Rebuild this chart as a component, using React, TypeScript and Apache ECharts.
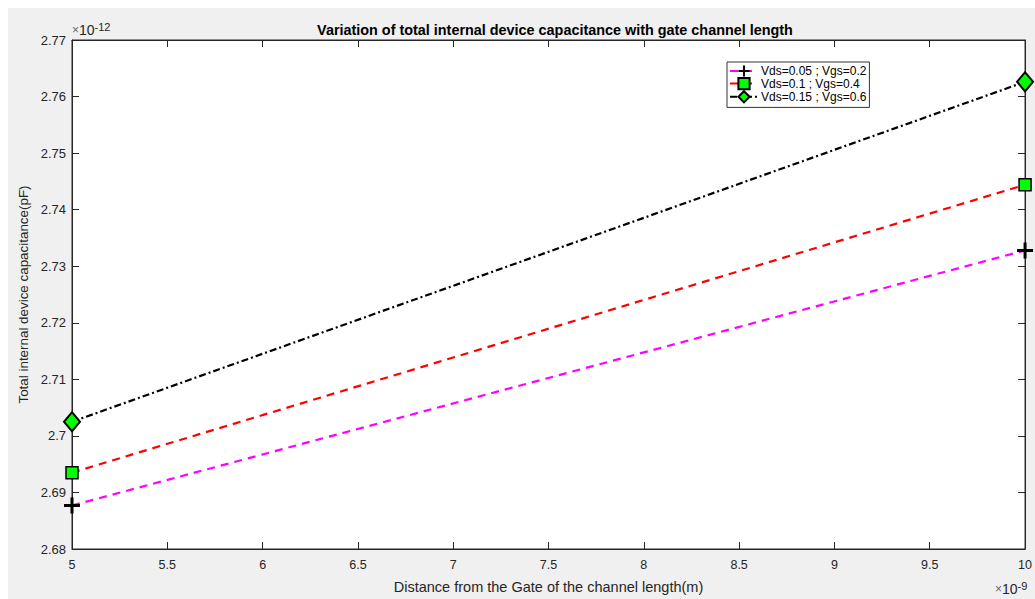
import React, { useEffect, useRef } from "react";
import * as echarts from "echarts";

const xValues = [5, 10];
const seriesNames = ["Vds=0.05 ; Vgs=0.2", "Vds=0.1 ; Vgs=0.4", "Vds=0.15 ; Vgs=0.6"];
const magentaValues = [2.6877, 2.7328];
const redValues = [2.6935, 2.7444];
const blackValues = [2.7025, 2.7626];

const titleText = "Variation of total internal device capacitance with gate channel length";
const xLabel = "Distance from the Gate of the channel length(m)";
const yLabel = "Total internal device capacitance(pF)";

const PLUS = "path://M6.5,0H9.5V6.5H16V9.5H9.5V16H6.5V9.5H0V6.5H6.5Z";

const fmt = (v: number) => String(parseFloat(v.toFixed(2)));

export default function App() {
  const ref = useRef<HTMLDivElement>(null);
  useEffect(() => {
    if (!ref.current) return;
    const chart = echarts.init(ref.current, undefined, { renderer: "svg" });
    const font = "'Liberation Sans', Arial, Helvetica, sans-serif";
    const axisCol = "#262626";
    const pts = (vals: number[]) => xValues.map((x, i) => [x, vals[i]]);
    const commonX = {
      type: "value",
      min: 5,
      max: 10,
      interval: 0.5,
      splitLine: { show: false },
      axisLine: { show: true, onZero: false, lineStyle: { color: axisCol, width: 1 } },
      axisTick: { show: true, inside: true, length: 7, lineStyle: { color: axisCol } },
    };
    const commonY = {
      type: "value",
      min: 2.68,
      max: 2.77,
      interval: 0.01,
      splitLine: { show: false },
      axisLine: { show: true, onZero: false, lineStyle: { color: axisCol, width: 1 } },
      axisTick: { show: true, inside: true, length: 7, lineStyle: { color: axisCol } },
    };
    const expRich = {
      a: { fontSize: 12, fill: "#666", fontFamily: font },
      b: { fontSize: 14, fill: axisCol, fontFamily: font },
      c: { fontSize: 11, fill: axisCol, fontFamily: font, verticalAlign: "top", padding: [0, 0, 7, 0] },
    };
    chart.setOption({
      animation: false,
      backgroundColor: "#f0f0f0",
      textStyle: { fontFamily: font },
      title: {
        text: titleText,
        left: 64 + 478,
        textAlign: "center",
        top: 10,
        textStyle: { fontSize: 14.4, fontWeight: "bold", color: "#000", fontFamily: font },
      },
      grid: {
        left: 64,
        right: 7,
        top: 32,
        bottom: 49,
        show: true,
        backgroundColor: "#ffffff",
        borderColor: axisCol,
        borderWidth: 1,
      },
      legend: {
        left: 719,
        top: 54,
        orient: "vertical",
        data: seriesNames,
        backgroundColor: "#ffffff",
        borderColor: "#333333",
        borderWidth: 1,
        borderRadius: 0,
        padding: [3, 3, 4, 2],
        itemGap: 0,
        itemWidth: 28,
        itemHeight: 14,
        textStyle: { fontSize: 12, color: "#000", fontFamily: font, padding: [0, 0, 0, -2] },
      },
      xAxis: [
        {
          ...commonX,
          position: "bottom",
          name: xLabel,
          nameLocation: "middle",
          nameGap: 30,
          nameTextStyle: { fontSize: 14.5, color: axisCol, fontFamily: font },
          axisLabel: { show: true, color: axisCol, fontSize: 12.5, margin: 9, formatter: fmt },
        },
        { ...commonX, position: "top", axisLabel: { show: false } },
      ],
      yAxis: [
        {
          ...commonY,
          position: "left",
          name: yLabel,
          nameLocation: "middle",
          nameGap: 31,
          nameTextStyle: { fontSize: 13.4, color: axisCol, fontFamily: font },
          axisLabel: { show: true, color: axisCol, fontSize: 13, margin: 6, formatter: fmt },
        },
        { ...commonY, position: "right", axisLabel: { show: false } },
      ],
      graphic: [
        {
          type: "text",
          left: 64,
          top: 13,
          style: { text: "{a|×}{b|10}{c|-12}", rich: expRich },
        },
        {
          type: "text",
          left: 987,
          top: 572,
          style: { text: "{a|×}{b|10}{c|-9}", rich: expRich },
        },
      ],
      series: [
        {
          name: seriesNames[0],
          type: "line",
          clip: false,
          data: pts(magentaValues),
          symbol: PLUS,
          symbolSize: 16,
          itemStyle: { color: "#000000", borderWidth: 0 },
          lineStyle: { color: "#ff00ff", width: 2.2, type: [8, 6] },
          z: 3,
        },
        {
          name: seriesNames[1],
          type: "line",
          clip: false,
          data: pts(redValues),
          symbol: "rect",
          symbolSize: 12,
          itemStyle: { color: "#00ff00", borderColor: "#000000", borderWidth: 1.5 },
          lineStyle: { color: "#ff0000", width: 2.2, type: [8, 6] },
          z: 4,
        },
        {
          name: seriesNames[2],
          type: "line",
          clip: false,
          data: pts(blackValues),
          symbol: "diamond",
          symbolSize: [16, 19],
          itemStyle: { color: "#00ff00", borderColor: "#000000", borderWidth: 2 },
          lineStyle: { color: "#000000", width: 2.2, type: [7, 3, 2, 3] },
          z: 5,
        },
      ],
    });
    return () => chart.dispose();
  }, []);
  return (
    <div
      ref={ref}
      style={{ position: "fixed", left: 8, top: 8, width: 1027, height: 591 }}
    />
  );
}
